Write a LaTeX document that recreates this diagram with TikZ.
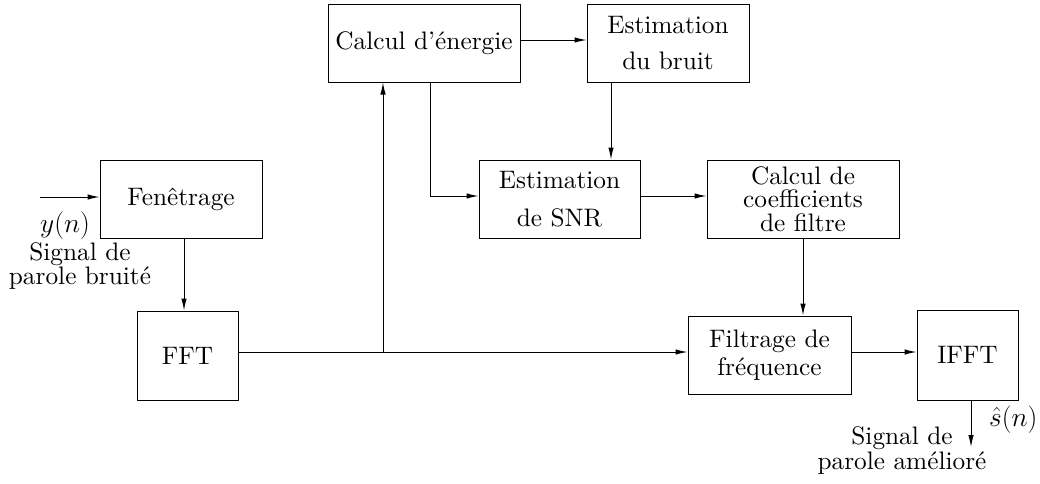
\documentclass[tikz,border=0pt]{standalone}
\usepackage{fix-cm}
\usepackage{fontspec}
\setmainfont{lmroman10-regular.otf}
\usetikzlibrary{arrows.meta,calc}
\newcommand{\bigtxt}[1]{\fontsize{25.3}{#1}\selectfont}
\begin{document}
\begin{tikzpicture}[x=1pt,y=-1pt,
  box/.style={draw,line width=1pt,inner sep=0pt,align=center},
  arr/.style={line width=1pt,-{Latex[length=12pt,width=5.5pt]}},
  ln/.style={line width=1pt},
  lbl/.style={inner sep=0pt,align=center}]
\useasboundingbox (0,0) rectangle (1040,483);
% boxes
\node[box,minimum width=162pt,minimum height=78pt,font=\bigtxt{30}] (Fen) at (181,199) {Fenêtrage};
\node[box,minimum width=101pt,minimum height=89pt,font=\bigtxt{30}] (FFT) at (187.5,355.5) {FFT};
\node[box,minimum width=192pt,minimum height=78pt,font=\bigtxt{30}] (Cal) at (424,43) {Calcul d’énergie};
\node[box,minimum width=162pt,minimum height=78pt,font=\bigtxt{36}] (Bruit) at (668,43) {Estimation\\du bruit};
\node[box,minimum width=161pt,minimum height=78pt,font=\bigtxt{38}] (SNR) at (559.5,199) {Estimation\\de SNR};
\node[box,minimum width=192pt,minimum height=78pt,font=\bigtxt{23.5}] (Coef) at (803,199) {Calcul de\\coefficients\\de filtre};
\node[box,minimum width=163pt,minimum height=78pt,font=\bigtxt{28}] (Filt) at (769.5,355) {Filtrage de\\fréquence};
\node[box,minimum width=101pt,minimum height=90pt,font=\bigtxt{30}] (IFFT) at (967.5,355) {IFFT};
% helper coordinates
\coordinate (in) at (40,197);
\coordinate (fx) at (184,0);
\coordinate (J) at (383,352);
\coordinate (cy) at (0,40);
\coordinate (bx) at (611,0);
\coordinate (cx) at (430,0);
\coordinate (sy) at (0,196);
\coordinate (ix) at (971,0);
\coordinate (out) at (971,447);
% connectors
\draw[arr] (in) -- (in -| Fen.west);
\draw[arr] (fx |- Fen.south) -- (fx |- FFT.north);
\draw[ln] (FFT.east |- J) -- (J);
\draw[arr] (J) -- (J -| Filt.west);
\draw[arr] (J) -- (J |- Cal.south);
\draw[arr] (Cal.east |- cy) -- (Bruit.west |- cy);
\draw[arr] (bx |- Bruit.south) -- (bx |- SNR.north);
\draw[arr] (cx |- Cal.south) -- (cx |- sy) -- (SNR.west |- sy);
\draw[arr] (SNR.east |- sy) -- (Coef.west |- sy);
\draw[arr] (Coef.south) -- (Coef.south |- Filt.north);
\draw[arr] (Filt.east |- J) -- (IFFT.west |- J);
\draw[arr] (ix |- IFFT.south) -- (out);
% labels
\node[lbl,font=\fontsize{27.5}{30}\selectfont] (yn) at (65,226) {$y(n)$};
\node[lbl,font=\bigtxt{23.5}] (sin) at (80,266) {Signal de\\parole bruité};
\node[lbl,anchor=west,font=\fontsize{27.5}{30}\selectfont] (sn) at (989,420) {$\hat{s}(n)$};
\node[lbl,font=\bigtxt{25}] (sout) at (902,451) {Signal de\\parole amélioré};
\end{tikzpicture}
\end{document}
